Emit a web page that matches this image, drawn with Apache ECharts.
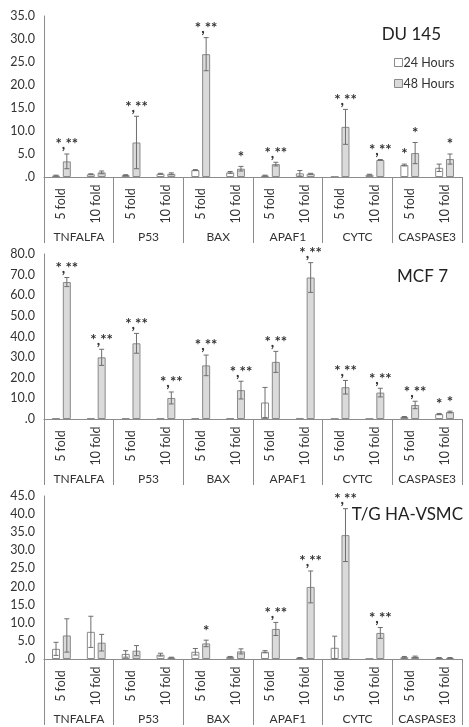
<!DOCTYPE html>
<html><head><meta charset="utf-8">
<script src="https://cdn.jsdelivr.net/npm/echarts@6/dist/echarts.min.js"></script>
<style>html,body{margin:0;padding:0;background:#fff}#c{width:469px;height:727px}</style>
</head><body><div id="c"></div>
<script>
const groups = ['TNFALFA','P53','BAX','APAF1','CYTC','CASPASE3'];
const subs = ['5 fold','10 fold','5 fold','10 fold','5 fold','10 fold','5 fold','10 fold','5 fold','10 fold','5 fold','10 fold'];
const panelTitles = ['DU 145','MCF 7','T/G HA-VSMC'];
const yMax = [35, 80, 45];
const yStep = [5, 10, 5];

// DU 145
const du24 = [0.3,0.6, 0.4,0.7, 1.5,1.0, 0.3,0.8, 0.1,0.5, 2.6,2.0];
const du24Err = [0.1,0.1, 0.1,0.1, 0.1,0.2, 0.1,0.6, 0,0.1, 0.2,0.8];
const du48 = [3.4,1.0, 7.5,0.7, 26.7,1.8, 2.8,0.7, 10.9,3.7, 5.2,3.9];
const du48Err = [1.6,0.3, 5.7,0.2, 3.6,0.5, 0.4,0.1, 3.8,0.1, 2.3,1.1];
const du24Stars = ['','','','','','','','','','','*',''];
const du48Stars = ['*,**','','*,**','','*,**','*','*,**','','*,**','*,**','*','*'];

// MCF 7
const mcf24 = [0.3,0.3, 0.3,0.3, 0.3,0.3, 8.0,0.5, 0.2,0.2, 1.0,2.4];
const mcf24Err = [0,0, 0,0, 0,0, 7.3,0, 0,0, 0.2,0.3];
const mcf48 = [66.4,29.9, 36.7,10.2, 26.0,14.0, 27.7,68.6, 15.4,12.8, 6.8,3.4];
const mcf48Err = [2.2,3.9, 4.8,2.9, 5.0,4.3, 5.1,7.2, 3.3,2.1, 1.8,0.4];
const mcf24Stars = ['','','','','','','','','','','','*'];
const mcf48Stars = ['*,**','*,**','*,**','*,**','*,**','*,**','*,**','*,**','*,**','*,**','*,**','*'];

// T/G HA-VSMC
const vs24 = [2.8,7.5, 1.4,1.2, 2.0,0.6, 2.0,0.3, 3.1,0.1, 0.5,0.3];
const vs24Err = [1.8,4.3, 0.9,0.4, 0.9,0.1, 0.3,0.1, 3.2,0, 0.2,0.1];
const vs48 = [6.5,4.5, 2.3,0.4, 4.3,2.1, 8.3,19.9, 34.2,7.2, 0.6,0.3];
const vs48Err = [4.6,2.3, 1.4,0.1, 0.9,0.7, 1.8,4.4, 7.3,1.5, 0.2,0.1];
const vs24Stars = ['','','','','','','','','','','',''];
const vs48Stars = ['','','','','*','','*,**','*,**','*,**','*,**','',''];

const panels = [
  {v24:du24,e24:du24Err,v48:du48,e48:du48Err,s24:du24Stars,s48:du48Stars},
  {v24:mcf24,e24:mcf24Err,v48:mcf48,e48:mcf48Err,s24:mcf24Stars,s48:mcf48Stars},
  {v24:vs24,e24:vs24Err,v48:vs48,e48:vs48Err,s24:vs24Stars,s48:vs48Stars}
];

const FONT = 'Lato, "Liberation Sans", sans-serif';
const gridPos = [{top:16,height:161},{top:254,height:165},{top:496,height:163}];
const BW = 8, GAP = 2.8;

const grid=[], xAxis=[], yAxis=[], series=[], title=[];
panels.forEach((p,i)=>{
  grid.push({left:44,right:7,top:gridPos[i].top,height:gridPos[i].height});
  xAxis.push({type:'category',gridIndex:i,data:subs,position:'bottom',
    axisLine:{show:true,lineStyle:{color:'#8c8c8c',width:1}},
    axisTick:{show:false},
    axisLabel:{rotate:90,align:'center',verticalAlign:'middle',margin:27,fontSize:12.5,color:'#333',fontFamily:FONT,interval:0}});
  xAxis.push({type:'category',gridIndex:i,data:groups,position:'bottom',
    axisLine:{show:false},
    axisTick:{show:true,length:66,interval:0,lineStyle:{color:'#8c8c8c',width:1}},
    axisLabel:{show:false}});
  yAxis.push({type:'value',gridIndex:i,min:0,max:yMax[i],interval:yStep[i],
    axisLine:{show:true,lineStyle:{color:'#8c8c8c',width:1}},
    axisTick:{show:false},splitLine:{show:false},
    axisLabel:{margin:9,fontSize:12.5,color:'#333',fontFamily:FONT,
      formatter:v=>v===0?'.0':v.toFixed(1)}});
  // group labels drawn under the axis, centred between each pair of sub-categories
  series.push({type:'custom',xAxisIndex:2*i,yAxisIndex:i,clip:false,silent:true,z:5,
    data:groups.map((g,gi)=>[gi*2,0]),
    encode:{x:0,y:1},
    renderItem:(params,api)=>{
      const gi=params.dataIndex;
      const a=api.coord([2*gi,0]), b=api.coord([2*gi+1,0]);
      return {type:'text',style:{text:groups[gi],x:(a[0]+b[0])/2,y:a[1]+60,align:'center',verticalAlign:'middle',
        fontSize:12,fontFamily:FONT,fill:'#333'}};
    }});
  series.push({name:'24 Hours',type:'bar',xAxisIndex:2*i,yAxisIndex:i,data:p.v24,
    barWidth:BW,barGap:'35%',itemStyle:{color:'#ffffff',borderColor:'#8a8a8a',borderWidth:1}});
  series.push({name:'48 Hours',type:'bar',xAxisIndex:2*i,yAxisIndex:i,data:p.v48,
    barWidth:BW,itemStyle:{color:'#dadada',borderColor:'#8a8a8a',borderWidth:1}});
  [[p.v24,p.e24,p.s24,-1],[p.v48,p.e48,p.s48,1]].forEach(([v,e,s,side])=>{
    series.push({type:'custom',xAxisIndex:2*i,yAxisIndex:i,z:5,silent:true,clip:false,
      data:v.map((val,k)=>[k,val,e[k],s[k]]),
      encode:{x:0,y:1},
      renderItem:(params,api)=>{
        const k=api.value(0), val=api.value(1), err=api.value(2);
        const star=s[k];
        const c=api.coord([k,val]);
        const x=c[0]+side*(BW+GAP)/2;
        const top=api.coord([k,val+err])[1];
        const bot=api.coord([k,Math.max(0,val-err)])[1];
        const ls={stroke:'#6e6e6e',lineWidth:1};
        const ch=[];
        if(err>0){
          ch.push({type:'line',shape:{x1:x,y1:top,x2:x,y2:bot},style:ls});
          ch.push({type:'line',shape:{x1:x-2.5,y1:top,x2:x+2.5,y2:top},style:ls});
          ch.push({type:'line',shape:{x1:x-2.5,y1:bot,x2:x+2.5,y2:bot},style:ls});
        }
        if(star){
          ch.push({type:'text',style:{text:star,x:x,y:Math.min(top,c[1])-2,align:'center',verticalAlign:'bottom',
            fontSize:15,fontWeight:'bold',fontFamily:FONT,fill:'#333'}});
        }
        return {type:'group',children:ch};
      }});
  });
});

title.push({text:panelTitles[0],right:23,top:21,textStyle:{fontSize:17,fontWeight:'normal',color:'#222',fontFamily:FONT}});
title.push({text:panelTitles[1],right:16,top:263,textStyle:{fontSize:17,fontWeight:'normal',color:'#222',fontFamily:FONT}});
title.push({text:panelTitles[2],right:1,top:501,textStyle:{fontSize:17,fontWeight:'normal',color:'#222',fontFamily:FONT}});

const chart=echarts.init(document.getElementById('c'));
chart.setOption({
  animation:false,
  title,
  legend:{data:['24 Hours','48 Hours'],orient:'vertical',left:389,top:51,itemWidth:8,itemHeight:8,itemGap:8,
    icon:'rect',textStyle:{fontSize:12.5,color:'#333',fontFamily:FONT,padding:[0,0,0,-4]},
    itemStyle:{borderColor:'#8a8a8a',borderWidth:1}},
  grid,xAxis,yAxis,series
});
</script></body></html>
